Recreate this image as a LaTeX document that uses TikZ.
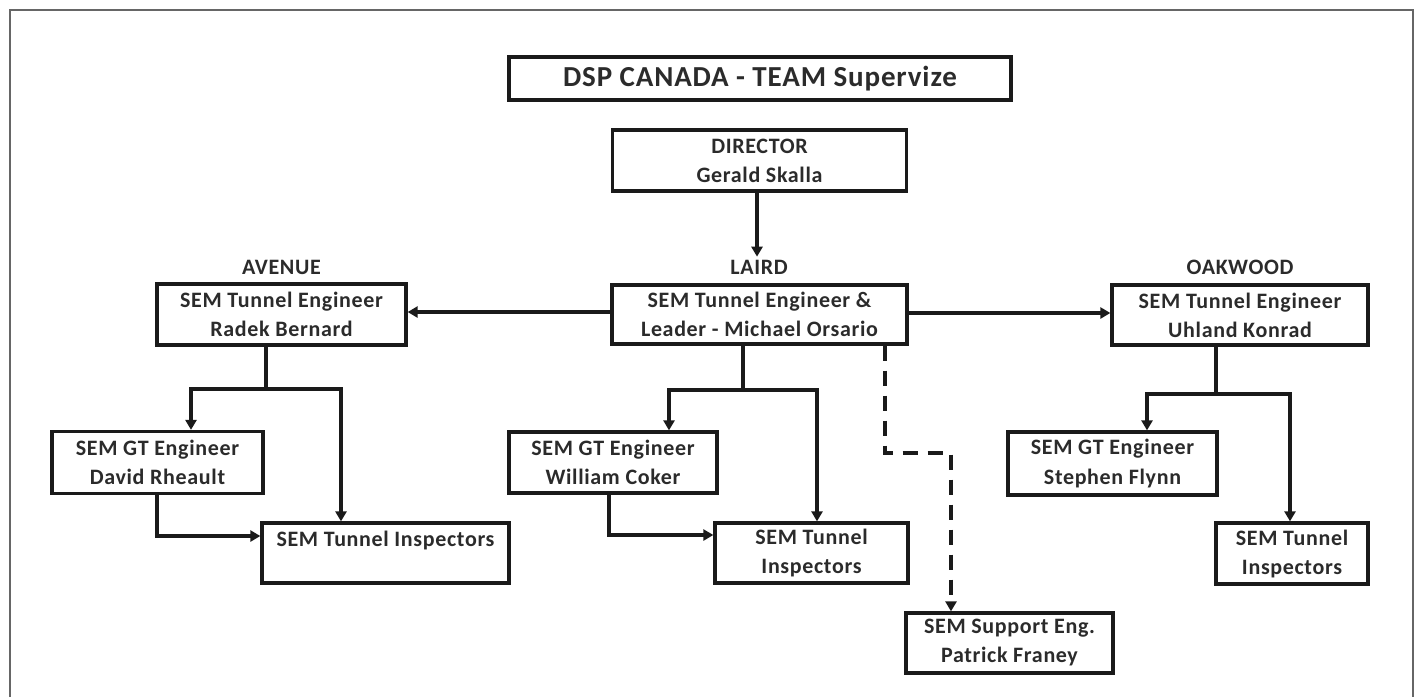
\documentclass[tikz,border=0pt]{standalone}
\usepackage{fontspec}
\setmainfont{Carlito}[LetterSpace=3]
\usetikzlibrary{arrows.meta,calc}
\definecolor{txt}{HTML}{2B2B2B}
\definecolor{ln}{HTML}{1A1A1A}
\definecolor{frm}{HTML}{666666}
\begin{document}
\begin{tikzpicture}[x=1pt,y=-1pt,
  box/.style={draw=ln,line width=3.3pt,inner sep=0pt,align=center,text=txt,
    font=\bfseries\fontsize{22}{29}\selectfont},
  lbl/.style={inner sep=0pt,text=txt,font=\bfseries\fontsize{22}{26}\selectfont},
  conn/.style={draw=ln,line width=3.3pt,-{Triangle[length=10pt,width=11pt]}},
  dconn/.style={conn,dash pattern=on 15pt off 10pt}
]
\useasboundingbox (0,0) rectangle (1418,697);
\draw[frm,line width=2pt] (10,697) -- (10,10) -- (1413,10) -- (1413,697);

\node[box,minimum width=502pt,minimum height=43pt,font=\bfseries\fontsize{29}{32}\selectfont] (title) at (760,78.5) {DSP CANADA - TEAM Supervize};
\node[box,minimum width=294pt,minimum height=61pt] (dir) at (759.5,160.5) {DIRECTOR\\Gerald Skalla};

\node[box,minimum width=295pt,minimum height=59pt] (laird) at (759.5,314.5) {SEM Tunnel Engineer \&\\Leader - Michael Orsario};
\node[box,minimum width=249pt,minimum height=61pt] (ave) at (281.5,314.5) {SEM Tunnel Engineer\\Radek Bernard};
\node[box,minimum width=256pt,minimum height=60pt] (oak) at (1240,315) {SEM Tunnel Engineer\\Uhland Konrad};

\node[lbl] (lave) at (281.5,267) {AVENUE};
\node[lbl] (llaird) at (759,267) {LAIRD};
\node[lbl] (loak) at (1240,267) {OAKWOOD};

\node[box,minimum width=211pt,minimum height=62pt] (david) at (157.5,462.5) {SEM GT Engineer\\David Rheault};
\node[box,minimum width=247pt,minimum height=60pt] (insA) at (385.5,553) {SEM Tunnel Inspectors\\\mbox{}};
\node[box,minimum width=208pt,minimum height=61pt] (will) at (613,462.5) {SEM GT Engineer\\William Coker};
\node[box,minimum width=193pt,minimum height=60pt] (insL) at (811.5,553) {SEM Tunnel\\Inspectors};
\node[box,minimum width=209pt,minimum height=63pt] (steph) at (1112.5,463.5) {SEM GT Engineer\\Stephen Flynn};
\node[box,minimum width=152pt,minimum height=61pt] (insO) at (1292,553.5) {SEM Tunnel\\Inspectors};
\node[box,minimum width=207pt,minimum height=60pt] (sup) at (1009.5,643) {SEM Support Eng.\\Patrick Franey};

% director to laird
\draw[conn] (dir.south -| 757,0) -- ([yshift=3pt]llaird.north -| 757,0);
% laird to branches
\draw[conn] (laird.west |- 0,312) -- (ave.east |- 0,312);
\draw[conn] (laird.east |- 0,313) -- (oak.west |- 0,313);

% Avenue
\coordinate (aj) at (266,389);
\draw[ln,line width=3.3pt] (ave.south -| aj) -- (aj);
\draw[conn] (aj) -| (david.north -| 191,0);
\draw[conn] (aj) -| (insA.north -| 341,0);
\draw[conn] (david.south -| 157,0) |- (insA.west |- 0,536);

% Laird
\coordinate (lj) at (743,390);
\draw[ln,line width=3.3pt] (laird.south -| lj) -- (lj);
\draw[conn] (lj) -| (will.north -| 669,0);
\draw[conn] (lj) -| (insL.north -| 817,0);
\draw[conn] (will.south -| 609,0) |- (insL.west |- 0,535);
\coordinate (dj) at (885,453);
\draw[dconn] (laird.south -| dj) -- (dj) -| (sup.north -| 951,0);

% Oakwood
\coordinate (oj) at (1216,394);
\draw[ln,line width=3.3pt] (oak.south -| oj) -- (oj);
\draw[conn] (oj) -| (steph.north -| 1147,0);
\draw[conn] (oj) -| (insO.north -| 1290,0);
\end{tikzpicture}
\end{document}
